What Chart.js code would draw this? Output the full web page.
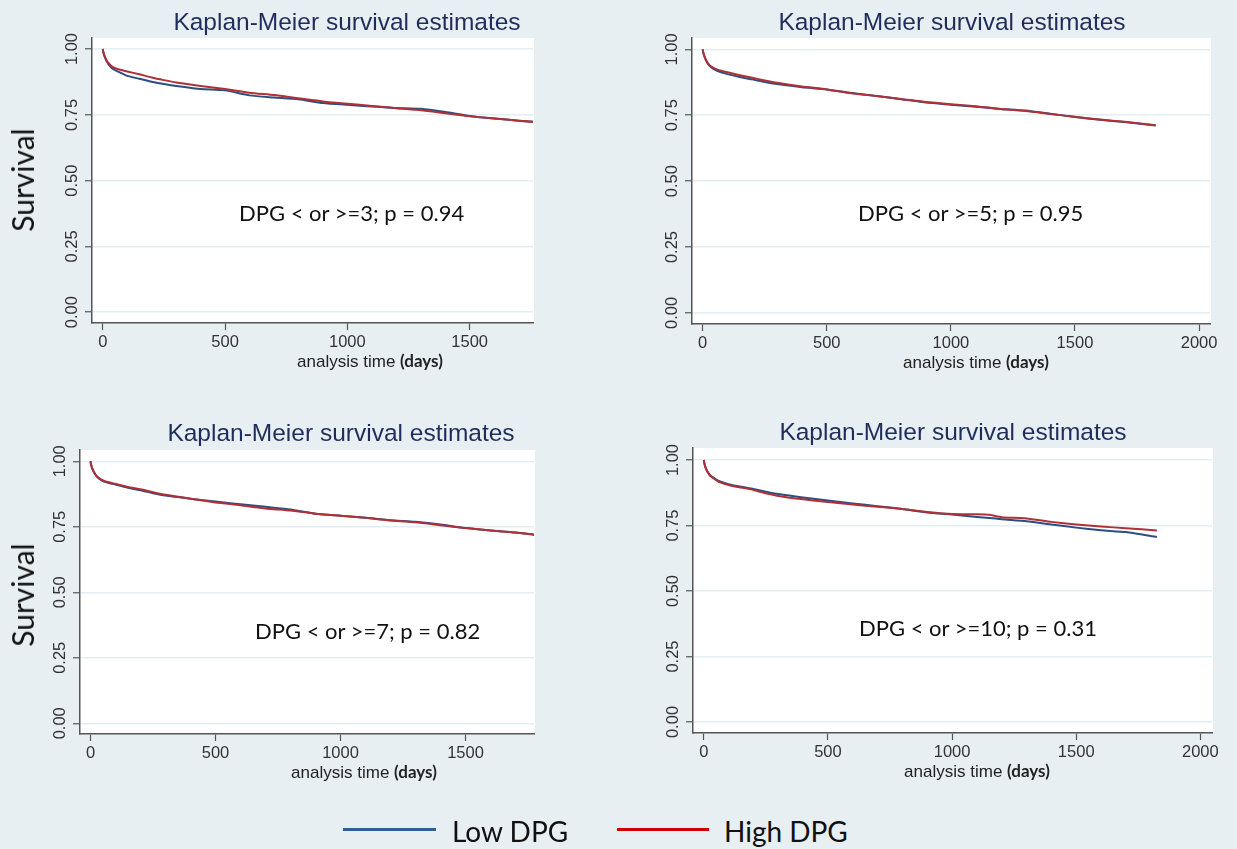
<!DOCTYPE html>
<html>
<head>
<meta charset="utf-8">
<script src="https://cdn.jsdelivr.net/npm/chart.js@4.4.1/dist/chart.umd.min.js"></script>
<style>
  html, body { margin: 0; padding: 0; }
  body { width: 1237px; height: 849px; background: #e8eff2; position: relative; overflow: hidden; }
  canvas { position: absolute; }
  .txt { position: absolute; white-space: nowrap; transform: translate(-50%, -50%); }
  .title { font: 24.5px "Liberation Sans", Arial, sans-serif; color: #1f2d5c; }
  .note { font: 22px Lato, sans-serif; color: #111; transform: translate(0, -50%); }
  .xt { font: 17px "Liberation Sans", Arial, sans-serif; color: #222; }
  .xt b { font: bold 17px Lato, sans-serif; }
  .ylab { font: 30px Lato, sans-serif; color: #111; transform: translate(-50%, -50%) rotate(-90deg); }
  .leg { font: 28px Lato, sans-serif; color: #111; transform: translate(0, -50%); }
  .legline { position: absolute; height: 3px; }
</style>
</head>
<body>
<canvas id="km1"></canvas>
<canvas id="km2"></canvas>
<canvas id="km3"></canvas>
<canvas id="km4"></canvas>

<div class="txt title" style="left:347px; top:22px;">Kaplan-Meier survival estimates</div>
<div class="txt title" style="left:952px; top:22px;">Kaplan-Meier survival estimates</div>
<div class="txt title" style="left:341px; top:433px;">Kaplan-Meier survival estimates</div>
<div class="txt title" style="left:953px; top:432px;">Kaplan-Meier survival estimates</div>

<div class="txt note" style="left:239px; top:212px;">DPG &lt; or &gt;=3; p = 0.94</div>
<div class="txt note" style="left:858px; top:212px;">DPG &lt; or &gt;=5; p = 0.95</div>
<div class="txt note" style="left:255px; top:630px;">DPG &lt; or &gt;=7; p = 0.82</div>
<div class="txt note" style="left:859px; top:627px;">DPG &lt; or &gt;=10; p = 0.31</div>

<div class="txt xt" style="left:370px; top:361px;">analysis time <b>(days)</b></div>
<div class="txt xt" style="left:976px; top:362px;">analysis time <b>(days)</b></div>
<div class="txt xt" style="left:364px; top:772px;">analysis time <b>(days)</b></div>
<div class="txt xt" style="left:977px; top:771px;">analysis time <b>(days)</b></div>

<div class="txt ylab" style="left:22px; top:180px;">Survival</div>
<div class="txt ylab" style="left:22px; top:595px;">Survival</div>

<div class="legline" style="left:343px; top:828px; width:93px; background:#2f5d94;"></div>
<div class="txt leg" style="left:452px; top:831px;">Low DPG</div>
<div class="legline" style="left:617px; top:828px; width:92px; background:#cc0000;"></div>
<div class="txt leg" style="left:724px; top:831px;">High DPG</div>

<script>
// analysis time (days) where the curves were read
const days = [0, 3, 8, 15, 25, 40, 60, 100, 150, 200, 250, 300, 400, 500, 600, 700, 800, 900, 1000, 1100, 1150, 1200, 1300, 1400, 1500, 1600, 1700, 1825];

// DPG cut 3
const low3  = [1.0, 0.985, 0.970, 0.955, 0.940, 0.925, 0.915, 0.898, 0.887, 0.876, 0.867, 0.860, 0.848, 0.843, 0.824, 0.816, 0.809, 0.795, 0.788, 0.782, 0.779, 0.776, 0.773, 0.761, 0.746, 0.736, 0.728, 0.719];
const high3 = [1.0, 0.987, 0.973, 0.958, 0.945, 0.932, 0.924, 0.915, 0.904, 0.892, 0.882, 0.873, 0.860, 0.848, 0.834, 0.825, 0.813, 0.801, 0.792, 0.784, 0.780, 0.775, 0.767, 0.756, 0.745, 0.736, 0.728, 0.718];
// DPG cut 5
const low5  = [1.0, 0.985, 0.970, 0.955, 0.940, 0.928, 0.918, 0.906, 0.895, 0.886, 0.876, 0.868, 0.856, 0.848, 0.834, 0.823, 0.811, 0.798, 0.790, 0.782, 0.778, 0.774, 0.768, 0.756, 0.743, 0.733, 0.724, 0.711];
const high5 = [1.0, 0.986, 0.972, 0.957, 0.943, 0.932, 0.923, 0.913, 0.902, 0.892, 0.882, 0.873, 0.859, 0.848, 0.833, 0.823, 0.812, 0.800, 0.792, 0.784, 0.779, 0.774, 0.766, 0.755, 0.744, 0.734, 0.725, 0.712];
// DPG cut 7
const low7  = [1.0, 0.985, 0.970, 0.956, 0.942, 0.930, 0.921, 0.911, 0.899, 0.889, 0.878, 0.869, 0.857, 0.846, 0.836, 0.826, 0.816, 0.800, 0.792, 0.784, 0.780, 0.775, 0.769, 0.759, 0.745, 0.736, 0.728, 0.714];
const high7 = [1.0, 0.985, 0.970, 0.957, 0.943, 0.932, 0.923, 0.914, 0.902, 0.893, 0.882, 0.872, 0.857, 0.843, 0.832, 0.820, 0.812, 0.800, 0.792, 0.784, 0.779, 0.774, 0.767, 0.756, 0.745, 0.736, 0.728, 0.714];
// DPG cut 10
const low10  = [1.0, 0.985, 0.970, 0.956, 0.943, 0.932, 0.920, 0.908, 0.898, 0.890, 0.879, 0.870, 0.857, 0.846, 0.834, 0.824, 0.813, 0.800, 0.792, 0.783, 0.779, 0.774, 0.766, 0.754, 0.742, 0.732, 0.725, 0.706];
const high10 = [1.0, 0.984, 0.968, 0.954, 0.940, 0.930, 0.917, 0.905, 0.895, 0.886, 0.873, 0.863, 0.850, 0.840, 0.830, 0.822, 0.813, 0.802, 0.794, 0.793, 0.791, 0.782, 0.777, 0.764, 0.754, 0.746, 0.740, 0.731];

const yTicks = [0, 0.25, 0.5, 0.75, 1];
const yTickLabels = ['0.00', '0.25', '0.50', '0.75', '1.00'];
const xTicksShort = [0, 500, 1000, 1500];
const xTicksLong = [0, 500, 1000, 1500, 2000];

const BLUE = '#2b4e80';
const RED = '#b03038';
const AXW = 60, PADT = 10, XAH = 30, PADR = 30;

const plotBg = {
  id: 'plotBg',
  beforeDraw(chart) {
    const a = chart.chartArea, c = chart.ctx;
    c.save();
    c.fillStyle = '#ffffff';
    c.fillRect(a.left, a.top, a.right - a.left + 1, a.bottom - a.top);
    c.restore();
  }
};

// Stata style: y tick labels read bottom to top
const yLabels = {
  id: 'yLabels',
  afterDraw(chart) {
    const s = chart.scales.y, c = chart.ctx;
    c.save();
    c.font = '16.5px "Liberation Sans", Arial, sans-serif';
    c.fillStyle = '#333';
    c.textAlign = 'center';
    c.textBaseline = 'middle';
    yTicks.forEach((v, i) => {
      c.save();
      c.translate(s.right - 20, s.getPixelForValue(v));
      c.rotate(-Math.PI / 2);
      c.fillText(yTickLabels[i], 0, 0);
      c.restore();
    });
    c.restore();
  }
};

function pts(vals) {
  return days.map((d, i) => ({ x: d, y: vals[i] }));
}

function drawKM(id, box, low, high, xTicks, xr, yr) {
  const cv = document.getElementById(id);
  cv.width = box.r - box.l + AXW + PADR;
  cv.height = box.b - box.t + PADT + XAH;
  cv.style.left = (box.l - AXW) + 'px';
  cv.style.top = (box.t - PADT) + 'px';

  new Chart(cv.getContext('2d'), {
    type: 'line',
    data: {
      datasets: [
        { label: 'Low DPG', data: pts(low), borderColor: BLUE, borderWidth: 2, pointRadius: 0, tension: 0.2, fill: false, order: 1 },
        { label: 'High DPG', data: pts(high), borderColor: RED, borderWidth: 2, pointRadius: 0, tension: 0.2, fill: false, order: 0 }
      ]
    },
    options: {
      responsive: false,
      animation: false,
      devicePixelRatio: 1,
      layout: { padding: { top: PADT, right: PADR, left: 0, bottom: 0 } },
      plugins: { legend: { display: false }, tooltip: { enabled: false } },
      scales: {
        x: {
          type: 'linear',
          min: xr[0], max: xr[1],
          afterBuildTicks: s => { s.ticks = xTicks.map(v => ({ value: v })); },
          afterFit: s => { s.height = XAH; },
          border: { color: '#555', width: 1.5 },
          grid: { drawOnChartArea: false, tickLength: 7, tickColor: '#555', tickWidth: 1.2 },
          ticks: { color: '#333', padding: 3, maxRotation: 0, callback: v => String(v), font: { family: '"Liberation Sans", Arial', size: 16.5 } }
        },
        y: {
          min: yr[0], max: yr[1],
          afterBuildTicks: s => { s.ticks = yTicks.map(v => ({ value: v })); },
          afterFit: s => { s.width = AXW; },
          border: { color: '#555', width: 1.5 },
          grid: { color: '#e4edf1', lineWidth: 1.5, tickLength: 7, tickColor: '#555', tickWidth: 1.2 },
          ticks: { display: false }
        }
      }
    },
    plugins: [plotBg, yLabels]
  });
}

drawKM('km1', { l: 92, t: 38, r: 533, b: 323 }, low3, high3, xTicksShort, [-44, 1759], [-0.041, 1.042]);
drawKM('km2', { l: 692, t: 38, r: 1210, b: 324 }, low5, high5, xTicksLong, [-43, 2044], [-0.042, 1.043]);
drawKM('km3', { l: 80, t: 450, r: 534, b: 734 }, low7, high7, xTicksShort, [-42, 1774], [-0.041, 1.043]);
drawKM('km4', { l: 693, t: 448, r: 1212, b: 733 }, low10, high10, xTicksLong, [-43.5, 2047], [-0.042, 1.046]);
</script>
</body>
</html>
